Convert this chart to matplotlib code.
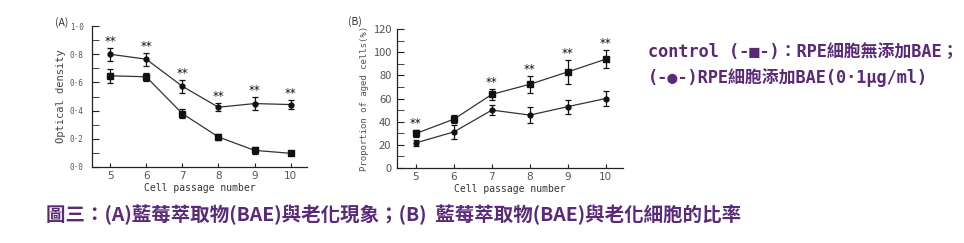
import numpy as np
import matplotlib.pyplot as plt
from matplotlib.ticker import MultipleLocator, FixedLocator

plt.rcParams['font.family'] = ['Noto Sans CJK TC', 'DejaVu Sans']

# 資料 (從圖上估計)
passage = [5, 6, 7, 8, 9, 10]

# (A) Optical density
od_bae = [0.80, 0.765, 0.573, 0.424, 0.45, 0.443]
od_bae_err = [0.047, 0.045, 0.047, 0.03, 0.047, 0.03]
od_ctrl = [0.647, 0.64, 0.379, 0.213, 0.118, 0.097]
od_ctrl_err = [0.05, 0.03, 0.03, 0.02, 0.025, 0.01]
od_star = [True, True, True, True, True, True]

# (B) Proportion of aged cells (%)
aged_ctrl = [29.8, 42.2, 63.6, 72.3, 83.0, 94.0]
aged_ctrl_err = [3.0, 3.5, 5.0, 7.5, 10.5, 8.0]
aged_bae = [21.7, 31.2, 50.0, 45.7, 53.0, 60.0]
aged_bae_err = [2.5, 5.8, 4.5, 6.6, 6.0, 6.6]
aged_star = [True, False, True, True, True, True]

title = '圖三：(A)藍莓萃取物(BAE)與老化現象；(B)  藍莓萃取物(BAE)與老化細胞的比率'
legend1 = 'control (-■-)：RPE細胞無添加BAE；'
legend2 = '(-●-)RPE細胞添加BAE(0·1μg/ml)'

purple = '#5a2a78'
line_col = '#333333'
tick_col = '#555555'
mono = ['DejaVu Sans Mono']

fig = plt.figure(figsize=(9.64, 2.43), dpi=100)
axA = fig.add_axes([0.0954, 0.3128, 0.223, 0.580])
axB = fig.add_axes([0.4118, 0.3086, 0.2344, 0.572])


def draw_series(ax, y, err, marker, ms):
    ax.errorbar(passage, y, yerr=err, color=line_col, ecolor='#111111',
                marker=marker, ms=ms, mfc='#111111', mec='#111111',
                lw=0.9, elinewidth=0.9, capsize=2.5, capthick=0.9)


def add_stars(ax, ys, errs, flags, off):
    for x, y, e, f in zip(passage, ys, errs, flags):
        if f:
            ax.text(x, y + e + off, '**', ha='center', va='bottom',
                    fontsize=8.5, color='#111111', family='DejaVu Sans')


def style_axis(ax):
    for s in ['top', 'right']:
        ax.spines[s].set_visible(False)
    for s in ['left', 'bottom']:
        ax.spines[s].set_linewidth(0.9)
        ax.spines[s].set_color('#222222')
    ax.set_xlim(4.5, 10.45)
    ax.xaxis.set_major_locator(FixedLocator(passage))
    ax.tick_params(axis='both', which='both', direction='in', colors='#222222',
                   labelcolor=tick_col)
    ax.tick_params(axis='x', which='major', length=3, labelsize=7.5, pad=3)
    ax.tick_params(axis='y', which='major', length=5, pad=6)
    ax.tick_params(axis='y', which='minor', length=5)
    ax.set_xlabel('Cell passage number', fontsize=7, color='#333333',
                  family=mono, labelpad=1)
    for lab in ax.get_xticklabels():
        lab.set_family('DejaVu Sans')


# (A)
draw_series(axA, od_bae, od_bae_err, 'o', 3.5)
draw_series(axA, od_ctrl, od_ctrl_err, 's', 5)
add_stars(axA, od_bae, od_bae_err, od_star, 0.0)
style_axis(axA)
axA.set_ylim(0, 1.0)
axA.yaxis.set_major_locator(MultipleLocator(0.2))
axA.yaxis.set_minor_locator(MultipleLocator(0.1))
axA.set_yticks(np.arange(0, 1.01, 0.2))
axA.set_yticklabels([f'{v:.1f}'.replace('.', '·') for v in np.arange(0, 1.01, 0.2)],
                    fontsize=5.5, family=mono)
axA.set_ylabel('Optical density', fontsize=7.5, color='#444444', family=mono, labelpad=3)
axA.text(-0.17, 1.0, '(A)', transform=axA.transAxes, fontsize=7.5, color='#333333')

# (B)
draw_series(axB, aged_ctrl, aged_ctrl_err, 's', 5)
draw_series(axB, aged_bae, aged_bae_err, 'o', 3.5)
add_stars(axB, aged_ctrl, aged_ctrl_err, aged_star, 0.0)
style_axis(axB)
axB.set_ylim(0, 120)
axB.yaxis.set_major_locator(MultipleLocator(20))
axB.yaxis.set_minor_locator(MultipleLocator(10))
axB.tick_params(axis='y', labelsize=8, pad=4)
axB.set_ylabel('Proportion of aged cells(%)', fontsize=6.5, color='#555555',
               family=mono, labelpad=3)
axB.text(-0.215, 1.03, '(B)', transform=axB.transAxes, fontsize=7.5, color='#333333')

# legend text and title
fig.text(0.672, 0.785, legend1, fontsize=12.2, color=purple, fontweight='bold',
         va='center', family=['DejaVu Sans Mono', 'Noto Sans CJK TC'])
fig.text(0.672, 0.68, legend2, fontsize=12.2, color=purple, fontweight='bold',
         va='center', family=['DejaVu Sans Mono', 'Noto Sans CJK TC'])
fig.text(0.048, 0.115, title, fontsize=14, color=purple, fontweight='bold',
         va='center')

fig.savefig('out.png', dpi=100)
